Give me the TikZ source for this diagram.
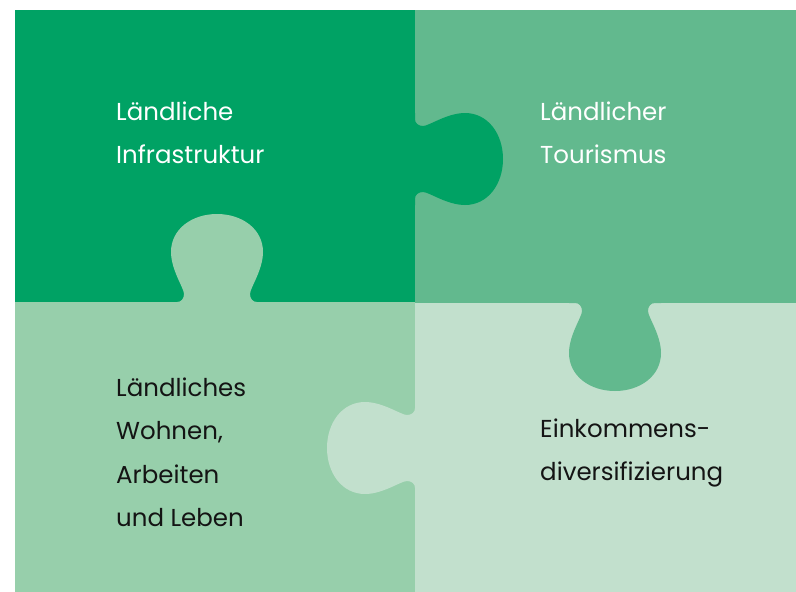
\documentclass[tikz,border=0pt]{standalone}
\usepackage{fontspec}
\setmainfont{Poppins}
\definecolor{cTL}{RGB}{0,162,100}
\definecolor{cTR}{RGB}{98,185,142}
\definecolor{cBL}{RGB}{151,207,171}
\definecolor{cBR}{RGB}{194,224,205}
\definecolor{txtdark}{RGB}{20,20,20}
\newcommand{\tabshape}{%
  (-46,2) -- (-46,0) -- (-40,0) .. controls (-36,0) and (-33,-3) .. (-33,-8)
  .. controls (-33,-14) and (-46,-32) .. (-46,-50)
  .. controls (-46,-73) and (-25,-88) .. (0,-88)
  .. controls (25,-88) and (46,-73) .. (46,-50)
  .. controls (46,-32) and (33,-14) .. (33,-8)
  .. controls (33,-3) and (36,0) .. (40,0) -- (46,0) -- (46,2) -- cycle}
\tikzset{
  label/.style={anchor=base west, inner sep=0pt, font=\fontsize{24.5pt}{28pt}\selectfont},
}
\newcommand{\lines}[1]{\parbox[t]{8cm}{\raggedright\baselineskip=43.5pt #1\par}}
\begin{document}
\begin{tikzpicture}[x=1pt,y=-1pt]
\useasboundingbox (0,0) rectangle (796,592);
\fill[cTL] (15,10) rectangle (415,302);
\fill[cTR] (415,10) rectangle (796,303);
\fill[cBL] (15,302) rectangle (415,592);
\fill[cBR] (415,303) rectangle (796,592);
% bottom-left tab into top-left
\begin{scope}[shift={(217,302)}]
  \fill[cBL] \tabshape;
\end{scope}
% top-left tab into top-right
\begin{scope}[shift={(415,159)},rotate=-90]
  \fill[cTL] \tabshape;
\end{scope}
% bottom-right tab into bottom-left
\begin{scope}[shift={(415,448)},rotate=90]
  \fill[cBR] \tabshape;
\end{scope}
% top-right tab into bottom-right
\begin{scope}[shift={(615,303)},rotate=180]
  \fill[cTR] \tabshape;
\end{scope}
\node[label,text=white] (tl) at (116,120) {\lines{Ländliche\\Infrastruktur}};
\node[label,text=white] (tr) at (540,120) {\lines{Ländlicher\\Tourismus}};
\node[label,text=txtdark] (bl) at (116,396) {\lines{Ländliches\\Wohnen,\\Arbeiten\\und Leben}};
\node[label,text=txtdark] (br) at (540,437) {\lines{Einkommens-\\diversifizierung}};
\end{tikzpicture}
\end{document}
